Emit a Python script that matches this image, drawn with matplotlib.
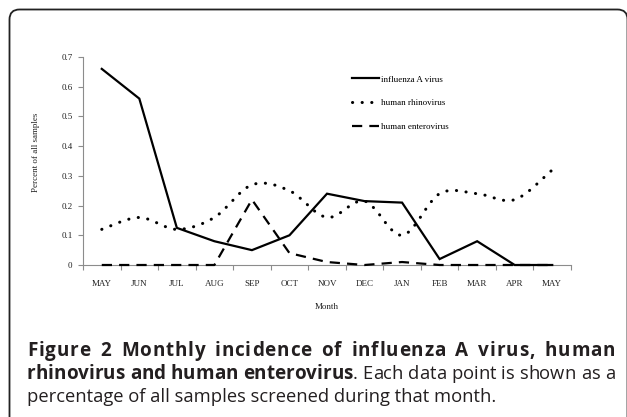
import matplotlib
matplotlib.use("Agg")
import matplotlib.pyplot as plt
import numpy as np
from matplotlib.path import Path
from matplotlib.patches import PathPatch, FancyBboxPatch
from matplotlib.lines import Line2D
from matplotlib.transforms import IdentityTransform

months = ["MAY", "JUN", "JUL", "AUG", "SEP", "OCT", "NOV", "DEC", "JAN", "FEB", "MAR", "APR", "MAY"]
influenza = [0.66, 0.56, 0.125, 0.08, 0.05, 0.10, 0.24, 0.215, 0.21, 0.02, 0.08, 0.0, 0.0]
rhinovirus = [0.12, 0.16, 0.12, 0.16, 0.27, 0.25, 0.16, 0.215, 0.10, 0.24, 0.24, 0.22, 0.32]
enterovirus = [0.0, 0.0, 0.0, 0.0, 0.22, 0.04, 0.01, 0.0, 0.01, 0.0, 0.0, 0.0, 0.0]
series_names = ["influenza A virus", "human rhinovirus", "human enterovirus"]
y_ticks = [0, 0.1, 0.2, 0.3, 0.4, 0.5, 0.6, 0.7]

cap_line1 = "Figure 2 Monthly incidence of influenza A virus, human"
cap_line2_bold = "rhinovirus and human enterovirus"
cap_line2_reg = ". Each data point is shown as a"
cap_line3 = "percentage of all samples screened during that month."

W, H = 627, 417
fig = plt.figure(figsize=(W / 100, H / 100), dpi=100)
fig.patch.set_facecolor("white")

# outer rounded frame (runs off the right and bottom edge)
frame = FancyBboxPatch((9.5, -30), 618, 417 - 9.5 + 30,
                       boxstyle="round,pad=0,rounding_size=10",
                       transform=IdentityTransform(), fill=False,
                       edgecolor="#222222", linewidth=1.3)
fig.add_artist(frame)

ax = fig.add_axes([83 / W, 152 / H, 488 / W, 208 / H])
x = np.arange(len(months))


def smooth_path(xs, ys):
    # excel-like smoothed line (catmull-rom -> bezier)
    pts = np.column_stack([xs, ys])
    n = len(pts)
    verts = [pts[0]]
    codes = [Path.MOVETO]
    for i in range(n - 1):
        p0 = pts[max(i - 1, 0)]
        p1 = pts[i]
        p2 = pts[i + 1]
        p3 = pts[min(i + 2, n - 1)]
        verts += [p1 + (p2 - p0) / 6, p2 - (p3 - p1) / 6, p2]
        codes += [Path.CURVE4] * 3
    return Path(verts, codes)


ax.plot(x, influenza, color="black", lw=1.6, solid_joinstyle="miter", clip_on=False, zorder=4)

dots = PathPatch(smooth_path(x, rhinovirus), fill=False, edgecolor="black", lw=2.2,
                 linestyle=(0, (0.05, 3.1)), capstyle="round", clip_on=False, zorder=4)
ax.add_patch(dots)

ax.plot(x, enterovirus, color="black", lw=1.6, linestyle=(0, (4.6, 3.2)),
        dash_capstyle="butt", clip_on=False, zorder=4)

ax.set_xlim(-0.5, 12.5)
ax.set_ylim(0, 0.7)

serif = "Liberation Serif"
for s in ["top", "right"]:
    ax.spines[s].set_visible(False)
for s in ["left", "bottom"]:
    ax.spines[s].set_color("#8c8c8c")
    ax.spines[s].set_linewidth(0.8)

ax.set_yticks(y_ticks)
ax.set_yticklabels(["0" if v == 0 else f"{v:.1f}" for v in y_ticks], fontsize=6.5, family=serif)
ax.tick_params(axis="y", length=3.5, width=0.8, color="#8c8c8c", pad=4, labelcolor="#222222")

ax.set_xticks(x)
ax.set_xticklabels(months, fontsize=6.5, family=serif)
ax.set_xticks(np.arange(-0.5, 13, 1), minor=True)
ax.tick_params(axis="x", which="major", length=0, pad=11, labelcolor="#222222")
ax.tick_params(axis="x", which="minor", length=3.5, width=0.8, color="#8c8c8c")

ax.set_ylabel("Percent of all samples", fontsize=6.5, family=serif, color="#222222")
ax.yaxis.set_label_coords(-0.088, 0.54)
ax.set_xlabel("Month", fontsize=6.5, family=serif, color="#222222")
ax.xaxis.set_label_coords(0.5, -0.185)

handles = [
    Line2D([], [], color="black", lw=1.6),
    Line2D([], [], color="black", lw=2.2, linestyle=(0, (0.05, 3.1)), dash_capstyle="round"),
    Line2D([], [], color="black", lw=1.6, linestyle=(0, (4.6, 3.2))),
]
ax.legend(handles, series_names, loc="upper left", bbox_to_anchor=(0.551, 0.912),
          frameon=False, prop={"family": serif, "size": 6.5}, handlelength=3.0,
          handletextpad=0.25, labelspacing=1.72, borderpad=0, borderaxespad=0)

# caption, justified like the journal page
cap_font = "Open Sans"
cap_color = "#231f20"
left_px, right_px = 27, 615
baselines = [356, 379, 402]
renderer = fig.canvas.get_renderer()
_adv = {}


def advance(ch, weight, size):
    key = (ch, weight, size)
    if key not in _adv:
        def w(s):
            t = fig.text(0, 0, s, fontsize=size, family=cap_font, weight=weight)
            ww = t.get_window_extent(renderer).width
            t.remove()
            return ww
        _adv[key] = w("|" + ch + "|") - w("||")
    return _adv[key]


def natural(s, weight, size):
    return sum(advance(c, weight, size) for c in s)


# font sizes chosen so the second line's pieces take the same room as on the page
bold_size = round(10 * 326 / natural(cap_line2_bold, "bold", 10), 2)
reg_size = round(10 * 262 / natural(cap_line2_reg, "normal", 10), 2)


def draw_chars(chars, baseline, space_weight):
    # spread the leftover width: spaces get space_weight, letter gaps get 1
    widths = [advance(c, wt, sz) for c, wt, sz in chars]
    extra = (right_px - left_px) - sum(widths)
    weights = [space_weight if c == " " else 1 for c, _, _ in chars[:-1]] + [0]
    unit = extra / sum(weights)
    cur = left_px
    y_fig = 1 - baseline / H
    for (c, wt, sz), w, k in zip(chars, widths, weights):
        if c != " ":
            fig.text(cur / W, y_fig, c, fontsize=sz, family=cap_font, weight=wt,
                     color=cap_color, va="baseline", ha="left")
        cur += w + k * unit


line1 = [(c, "bold", bold_size) for c in cap_line1]
line2 = [(c, "bold", bold_size) for c in cap_line2_bold] + [(c, "normal", reg_size) for c in cap_line2_reg]
draw_chars(line1, baselines[0], 5)
draw_chars(line2, baselines[1], 1000)
fig.text(left_px / W, 1 - baselines[2] / H, cap_line3, fontsize=reg_size, family=cap_font,
         color=cap_color, va="baseline", ha="left")

fig.savefig("out.png", dpi=100, facecolor="white")
